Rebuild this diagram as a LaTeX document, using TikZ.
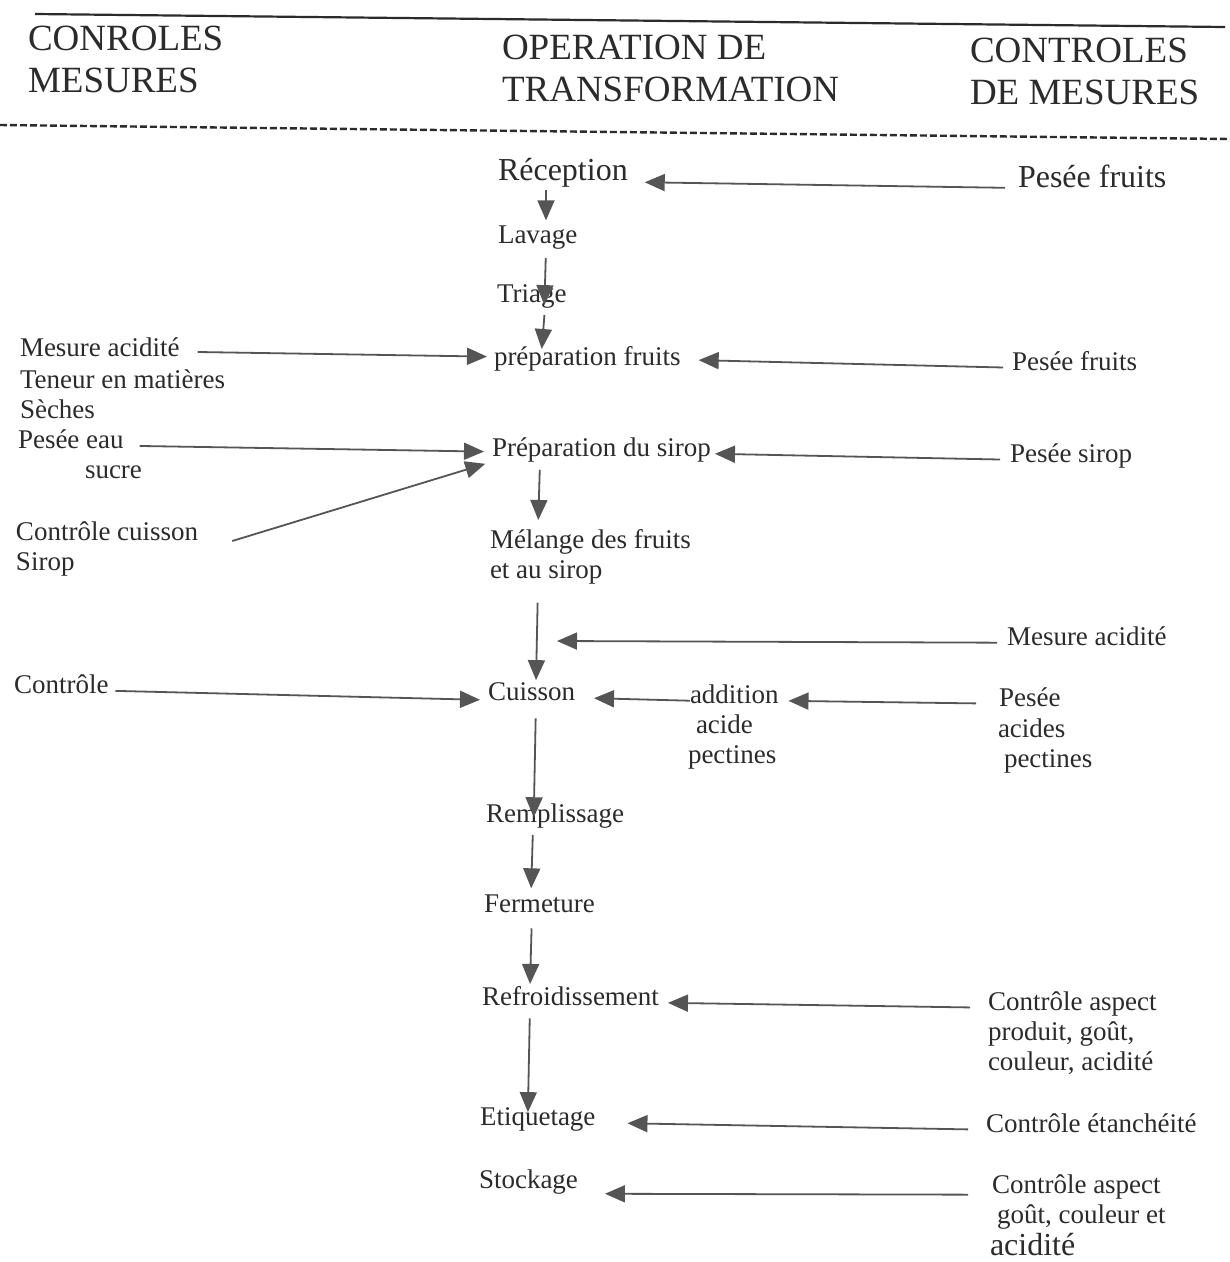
\documentclass[tikz,border=0pt]{standalone}
\usepackage{fontspec}
\setmainfont{Liberation Serif}
\usetikzlibrary{arrows.meta}
\definecolor{inkc}{HTML}{2B2B2B}
\definecolor{linec}{HTML}{555555}

\begin{document}
\begin{tikzpicture}[
    x=1pt, y=-1pt,
    txt/.style={anchor=base west, inner sep=0pt, outer sep=0pt, text=inkc, align=left, font=\fontsize{27}{30}\selectfont},
    bigtxt/.style={txt, font=\fontsize{32}{34}\selectfont},
    headtxt/.style={txt, font=\fontsize{37}{42}\selectfont},
    arr/.style={draw=linec, line width=1.8pt, -{Triangle[length=20pt, width=17pt]}}
]
\fill[white] (0,0) rectangle (1230,1262);
\useasboundingbox (0,0) rectangle (1230,1262);

% Header (multi-line nodes sit on their last baseline)
\draw[inkc, line width=2.2pt] (35,14) -- (1225,27);
\node[headtxt] (hleft) at (28,92) {CONROLES\\MESURES};
\node[headtxt] (hmid) at (502,101) {OPERATION DE\\TRANSFORMATION};
\node[headtxt] (hright) at (970,104) {CONTROLES\\DE MESURES};
\draw[inkc, line width=2.4pt, dash pattern=on 7pt off 3pt] (0,125) -- (1230,139);

% Middle: transformation steps
\node[bigtxt] (recep) at (498,180) {Réception};
\node[txt] (lav) at (498,243) {Lavage};
\node[txt] (tri) at (497,302) {Triage};
\node[txt] (prepf) at (494,365) {préparation fruits};
\node[txt] (prs) at (492,456) {Préparation du sirop};
\node[txt] (mel) at (490,578) {Mélange des fruits\\et au sirop};
\node[txt] (cuis) at (488,700) {Cuisson};
\node[txt] (addi) at (690,703) {addition};
\node[txt] (addi2) at (688,763) {\hspace*{8pt}acide\\pectines};
\node[txt] (rem) at (486,822) {Remplissage};
\node[txt] (ferm) at (484,912) {Fermeture};
\node[txt] (refr) at (482,1005) {Refroidissement};
\node[txt] (etiq) at (480,1125) {Etiquetage};
\node[txt] (stock) at (479,1188) {Stockage};

% Left: controls
\node[txt] (lmes) at (20,356) {Mesure acidité};
\node[txt] (lten) at (20,418) {Teneur en matières\\Sèches};
\node[txt] (lpes) at (18,448) {Pesée eau};
\node[txt] (lsuc) at (85,478) {sucre};
\node[txt] (lcc) at (16,540) {Contrôle cuisson};
\node[txt] (lsir) at (16,570) {Sirop};
\node[txt] (lcon) at (14,693) {Contrôle};

% Right: controls
\node[bigtxt] (pf1) at (1018,187) {Pesée fruits};
\node[txt] (pf2) at (1012,370) {Pesée fruits};
\node[txt] (ps) at (1010,462) {Pesée sirop};
\node[txt] (macr) at (1007,645) {Mesure acidité};
\node[txt] (pes) at (999,706) {Pesée};
\node[txt] (pes2) at (998,767) {acides\\\hspace*{6pt}pectines};
\node[txt] (cap1) at (988,1010) {Contrôle aspect};
\node[txt] (cap1b) at (988,1070) {produit, goût,\\couleur, acidité};
\node[txt] (cet) at (986,1132) {Contrôle étanchéité};
\node[txt] (cap2) at (992,1193) {Contrôle aspect};
\node[txt] (cap2b) at (997,1223) {goût, couleur et};
\node[bigtxt] (cap2c) at (990,1255) {acidité};
\coordinate (acid) at (557,641);

% Main flow
\draw[arr, shorten <=3pt, shorten >=5pt] ([xshift=48pt]recep.south west) -- ([xshift=48pt]lav.north west);
\draw[arr, shorten <=9pt, shorten >=-21pt] ([xshift=48pt]lav.south west) -- ([xshift=48pt]tri.north west);
\draw[arr, shorten <=7pt, shorten >=-3pt] ([xshift=48pt]tri.south west) -- ([xshift=48pt]prepf.north west);
\draw[arr, shorten <=8pt, shorten >=9pt] ([xshift=48pt]prs.south west) -- ([xshift=48pt]mel.north west);
\draw[arr, shorten <=19pt, shorten >=2pt] ([xshift=48pt]mel.south west) -- ([xshift=48pt]cuis.north west);
\draw[arr, shorten <=18pt, shorten >=-14pt] ([xshift=48pt]cuis.south west) -- ([xshift=48pt]rem.north west);
\draw[arr, shorten <=7pt, shorten >=6pt] ([xshift=47pt]rem.south west) -- ([xshift=47pt]ferm.north west);
\draw[arr, shorten <=16pt, shorten >=2pt] ([xshift=48pt]ferm.south west) -- ([xshift=48pt]refr.north west);
\draw[arr, shorten <=13pt, shorten >=-5pt] ([xshift=48pt]refr.south west) -- ([xshift=48pt]etiq.north west);

% Controls into the flow
\draw[arr, shorten <=13pt, shorten >=17pt] ([yshift=-1pt]pf1.base west) -- ([yshift=-2pt]recep.base east);
\draw[arr, shorten <=18pt, shorten >=7pt] ([yshift=2pt]lmes.mid east) -- ([yshift=6pt]prepf.mid west);
\draw[arr, shorten <=9pt, shorten >=18pt] (pf2.mid west) -- ([yshift=3pt]prepf.mid east);
\draw[arr, shorten <=16pt, shorten >=8pt] (lpes.mid east) -- ([yshift=2pt]prs.mid west);
\draw[arr, shorten >=7pt] ([xshift=34pt, yshift=-1pt]lcc.base east) -- (prs.south west);
\draw[arr, shorten <=10pt, shorten >=4pt] (ps.mid west) -- (prs.mid east);
\draw[arr, shorten <=10pt] (macr.mid west) -- (acid);
\draw[arr, shorten <=7pt, shorten >=8pt] (lcon.mid east) -- (cuis.base west);
\draw[arr, shorten >=19pt] (addi.mid west) -- (cuis.mid east);
\draw[arr, shorten <=23pt, shorten >=10pt] (pes.mid west) -- (addi.mid east);
\draw[arr, shorten <=18pt, shorten >=9pt] (cap1.mid west) -- (refr.mid east);
\draw[arr, shorten <=18pt, shorten >=32pt] (cet.mid west) -- (etiq.mid east);
\draw[arr, shorten <=24pt, shorten >=27pt] ([yshift=-4pt]cap2.mid west) -- ([yshift=-8pt]stock.mid east);

\end{tikzpicture}
\end{document}
